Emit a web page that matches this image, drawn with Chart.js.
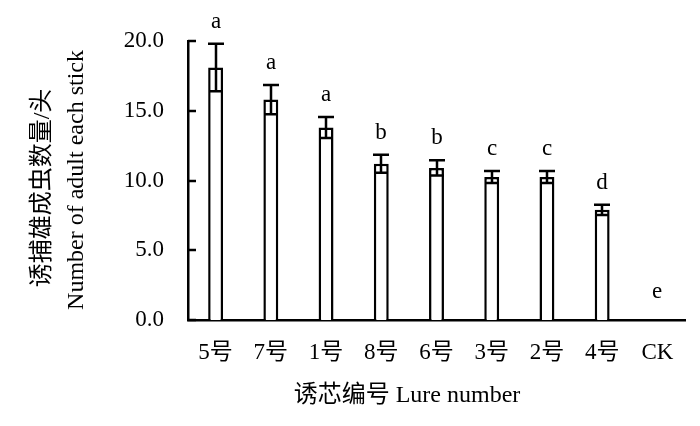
<!DOCTYPE html>
<html>
<head>
<meta charset="utf-8">
<script src="https://cdn.jsdelivr.net/npm/chart.js@4.4.0/dist/chart.umd.min.js"></script>
<style>
html,body{margin:0;padding:0;background:#fff;}
#wrap{width:700px;height:426px;position:relative;}
</style>
</head>
<body>
<div id="wrap"><canvas id="c" width="700" height="426"></canvas></div>
<script>
const categories = ["5号","7号","1号","8号","6号","3号","2号","4号","CK"];
const means = [18.1, 15.8, 13.8, 11.2, 10.9, 10.25, 10.25, 7.9, 0];
const errors = [1.7, 1.05, 0.75, 0.65, 0.55, 0.43, 0.43, 0.37, 0];
const letters = ["a","a","a","b","b","c","c","d","e"];
const yTicks = [0, 5, 10, 15, 20];
const yTitleLines = ["诱捕雄成虫数量/头", "Number of adult each stick"];
const xTitle = "诱芯编号 Lure number";

const FONT = '"Liberation Serif", "Times New Roman", "Noto Sans CJK SC", serif';

const extras = {
  id: 'extras',
  afterDatasetsDraw(chart) {
    const ctx = chart.ctx;
    const ys = chart.scales.y;
    const meta = chart.getDatasetMeta(0);
    const area = chart.chartArea;
    ctx.save();
    ctx.strokeStyle = '#000';
    ctx.fillStyle = '#000';
    ctx.lineWidth = 2.5;
    // inward y ticks
    yTicks.forEach(v => {
      const py = Math.round(ys.getPixelForValue(v));
      ctx.beginPath();
      ctx.moveTo(area.left, py);
      ctx.lineTo(area.left + 8, py);
      ctx.stroke();
    });
    // error bars and letters
    ctx.font = '23px ' + FONT;
    ctx.textAlign = 'center';
    ctx.textBaseline = 'middle';
    meta.data.forEach((bar, i) => {
      const x = Math.round(bar.x);
      const m = means[i], e = errors[i];
      const yT = ys.getPixelForValue(m + e);
      if (e > 0) {
        const yB = ys.getPixelForValue(m - e);
        ctx.beginPath();
        ctx.moveTo(x, yT); ctx.lineTo(x, yB);
        ctx.moveTo(x - 8, yT); ctx.lineTo(x + 8, yT);
        ctx.moveTo(x - 7, yB); ctx.lineTo(x + 7, yB);
        ctx.stroke();
      }
      ctx.fillText(letters[i], x, yT - (e > 0 ? 22 : 28));
    });
    // axis titles
    ctx.font = '24px ' + FONT;
    ctx.textAlign = 'center';
    ctx.textBaseline = 'middle';
    ctx.fillText(xTitle, 407, 396);
    ctx.save();
    ctx.translate(43, 188);
    ctx.rotate(-Math.PI / 2);
    ctx.fillText(yTitleLines[0], 0, 0);
    ctx.restore();
    ctx.save();
    ctx.translate(77, 180);
    ctx.rotate(-Math.PI / 2);
    ctx.fillText(yTitleLines[1], 0, 0);
    ctx.restore();
    ctx.restore();
  }
};

new Chart(document.getElementById('c'), {
  type: 'bar',
  data: {
    labels: categories,
    datasets: [{
      data: means,
      backgroundColor: '#fff',
      borderColor: '#000',
      borderWidth: 2.5,
      barPercentage: 0.27,
      categoryPercentage: 1.0
    }]
  },
  options: {
    responsive: false,
    animation: false,
    devicePixelRatio: 1,
    layout: { padding: { left: 0, right: 15, top: 41, bottom: 0 } },
    plugins: { legend: { display: false }, tooltip: { enabled: false } },
    scales: {
      x: {
        grid: { display: false, drawTicks: false },
        border: { display: true, color: '#000', width: 2.5 },
        ticks: { color: '#000', font: { family: FONT, size: 23 }, padding: 19, maxRotation: 0, autoSkip: false },
        afterFit(s) { s.height = 106; }
      },
      y: {
        min: 0, max: 20,
        grid: { display: false, drawTicks: false },
        border: { display: true, color: '#000', width: 2.5 },
        afterBuildTicks(s) { s.ticks = yTicks.map(v => ({ value: v })); },
        ticks: { color: '#000', font: { family: FONT, size: 23 }, padding: 24,
                 callback: v => Number(v).toFixed(1) },
        afterFit(s) { s.width = 188; }
      }
    }
  },
  plugins: [extras]
});
</script>
</body>
</html>
